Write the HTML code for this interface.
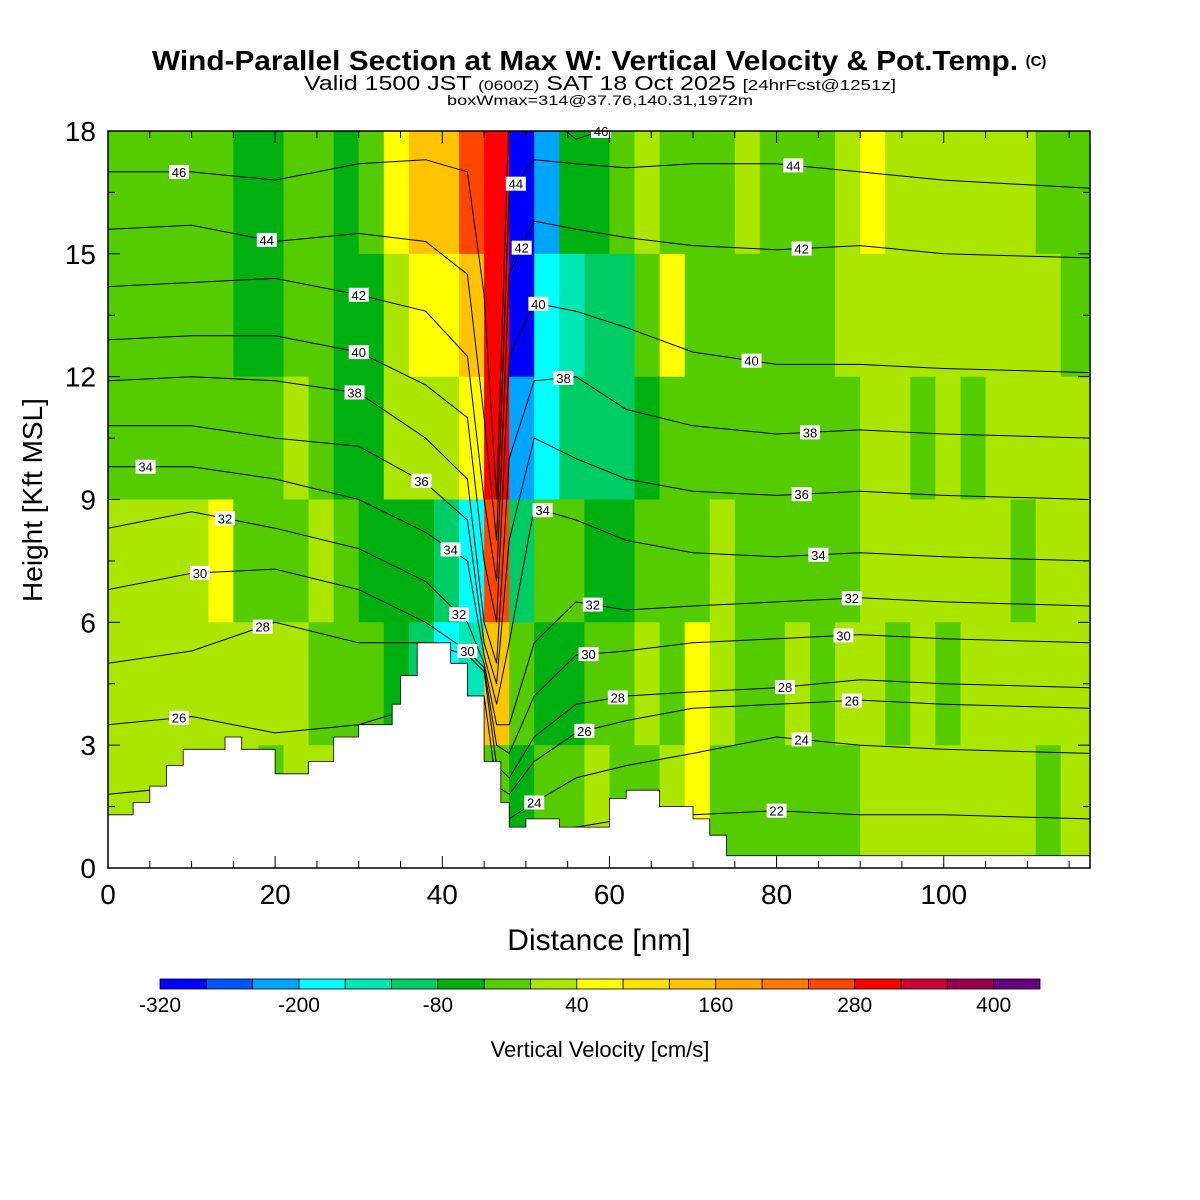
<!DOCTYPE html>
<html><head><meta charset="utf-8"><style>
html,body{margin:0;padding:0;background:#fff;}
svg{display:block;}
text{font-family:"Liberation Sans",sans-serif;}
</style></head><body>
<svg id="chart" width="1200" height="1200" viewBox="0 0 1200 1200" xmlns="http://www.w3.org/2000/svg">
<text x="585" y="70" text-anchor="middle" font-size="28" font-weight="bold" textLength="866" lengthAdjust="spacingAndGlyphs">Wind-Parallel Section at Max W: Vertical Velocity &amp; Pot.Temp.</text>
<text x="1036" y="66" text-anchor="middle" font-size="15" font-weight="bold">(C)</text>
<text x="600" y="90" text-anchor="middle" font-size="20" textLength="592" lengthAdjust="spacingAndGlyphs">Valid 1500 JST <tspan font-size="14">(0600Z)</tspan> SAT 18 Oct 2025 <tspan font-size="15">[24hrFcst@1251z]</tspan></text>
<text x="600" y="105" text-anchor="middle" font-size="14" textLength="306" lengthAdjust="spacingAndGlyphs">boxWmax=314@37.76,140.31,1972m</text>
<g id="cells"></g>
<g id="contours"></g>
<g id="terrain"></g>
<g id="labels"></g>
<rect x="108" y="131" width="982" height="737" fill="none" stroke="#000" stroke-width="1.5"/>
<g id="axes"></g>
<text x="599" y="950" text-anchor="middle" font-size="30">Distance [nm]</text>
<text transform="translate(42,500) rotate(-90)" text-anchor="middle" font-size="28">Height [Kft MSL]</text>
<g id="colorbar"></g>
<text x="600" y="1057" text-anchor="middle" font-size="22">Vertical Velocity [cm/s]</text>
</svg>
<script>
const NS="http://www.w3.org/2000/svg";
// ---- data ----
const colEdges=[0,3,6,9,12,15,18,21,24,27,30,33,36,39,42,45,48,51,54,57,60,63,66,69,72,75,78,81,84,87,90,93,96,99,102,105,108,111,114,117.5];
const rowEdges=[18,15,12,9,6,3,0];
// w values per row (top to bottom), cm/s
const wRow0=[-20,-20,-20,-20,-20,-60,-60,-20,-20,-60,-20,60,140,140,260,300,-300,-220,-60,-60,-20,20,-20,-20,-20,20,-20,-20,-20,20,60,20,20,20,20,20,20,-20,-20];
const wRow1=[-20,-20,-20,-20,-20,-60,-60,-20,-20,-60,-60,20,60,60,140,300,-300,-180,-140,-100,-100,-20,60,-20,-20,-20,-20,-20,-20,20,20,20,20,20,20,20,20,20,-20];
const wRow2=[-20,-20,-20,-20,-20,-20,-20,20,-20,-60,-60,20,20,20,60,300,-220,-180,-100,-100,-100,-60,-20,-20,-20,-20,-20,-20,-20,-20,20,20,-20,20,-20,20,20,20,20];
const wRow3=[20,20,20,20,60,-20,-20,-20,20,-20,-60,-60,-60,-100,-180,260,-100,-20,-20,-60,-60,-20,-20,-20,20,-20,-20,-20,-20,-20,20,20,20,20,20,20,-20,20,20];
const wRow4=[20,20,20,20,20,20,20,20,-20,-20,-20,-60,-100,-180,-140,140,-20,-60,-60,-20,-20,20,-20,60,20,-20,-20,20,-20,20,20,-20,20,-20,20,20,20,20,20];
const wRow5=[20,20,20,20,20,20,-20,20,20,60,20,20,20,20,-20,-20,-60,-20,-20,20,-20,-20,20,60,-20,-20,-20,-20,-20,-20,20,20,20,20,20,20,20,-20,20];
const wRows=[wRow0,wRow1,wRow2,wRow3,wRow4,wRow5];
const cbarColors=["#0000ff","#0055ff","#00a5ff","#00ffff","#00e6b4","#00cc66","#00b010","#55cc00","#aae600","#ffff00","#ffe100","#ffc300","#ffa500","#ff7800","#ff4600","#ff0000","#cc0032","#99004b","#660082"];
const cbarTicks=[-320,-200,-80,40,160,280,400];
const xTicks=[0,20,40,60,80,100];
const yTicks=[0,3,6,9,12,15,18];
// terrain: step heights (kft) starting at each x (nm)
const terrX=[0,3,5,7,9,14,16,20,24,27,30,34,35,37,41,43,45,47,48,50,54,60,62,66,70,72,74,117.5];
const terrH=[1.3,1.6,2.0,2.5,2.9,3.2,2.9,2.3,2.6,3.2,3.5,4.0,4.7,5.5,5.0,4.2,2.6,1.6,1.0,1.2,1.0,1.7,1.9,1.5,1.2,0.8,0.3,0.3];
// theta contours: heights (kft) at anchor distances
const thX=[0,10,20,30,38,43,45,46.5,48,51,56,62,70,80,90,100,117.5];
const thLevels=[22,24,26,28,30,32,34,36,38,40,42,44,46];
const th22=[0.5,0.5,0.5,0.5,0.5,0.5,0.5,0.5,0.5,0.8,1.0,1.2,1.3,1.4,1.3,1.3,1.2];
const th24=[1.8,2.0,1.5,1.5,1.5,1.5,1.5,1.2,1.2,1.6,2.2,2.5,2.8,3.2,3.0,2.9,2.8];
const th26=[3.5,3.7,3.3,3.5,4.0,4.2,4.2,2.0,1.8,2.6,3.3,3.6,3.9,4.0,4.1,4.0,3.9];
const th28=[5.0,5.3,6.0,5.5,5.5,5.2,4.8,2.5,2.2,3.2,4.0,4.2,4.3,4.4,4.6,4.5,4.4];
const th30=[6.8,7.2,7.3,6.8,6.0,5.3,4.9,3.0,2.8,4.2,5.2,5.3,5.5,5.6,5.7,5.6,5.5];
const th32=[8.3,8.7,8.3,7.8,7.0,6.0,5.0,3.5,3.5,5.5,6.5,6.3,6.4,6.5,6.6,6.5,6.4];
const th34=[9.8,9.8,9.5,9.0,8.2,7.5,5.2,4.0,5.5,8.8,8.5,8.0,7.7,7.6,7.7,7.6,7.5];
const th36=[10.8,10.8,10.5,10.3,9.4,8.5,5.5,4.5,8.0,10.5,10.0,9.5,9.2,9.1,9.2,9.1,9.0];
const th38=[11.9,12.0,11.9,11.6,10.5,9.5,6.0,5.0,10.0,11.9,12.0,11.2,10.8,10.6,10.7,10.6,10.5];
const th40=[12.9,13.0,13.0,12.6,11.8,11.0,7.5,6.0,12.5,13.8,13.6,13.2,12.6,12.3,12.3,12.2,12.1];
const th42=[14.2,14.3,14.4,14.0,13.6,12.5,9.0,7.0,14.5,15.8,15.6,15.4,15.2,15.1,15.2,15.0,14.9];
const th44=[15.6,15.7,15.3,15.5,15.3,14.5,11.0,8.0,16.5,17.3,17.2,17.1,17.2,17.2,17.0,16.8,16.6];
const th46=[17.0,17.0,16.8,17.2,17.3,17.0,14.0,9.0,18.5,18.6,17.8,18.2,18.6,18.8,18.8,18.8,18.8];
const thRows=[th22,th24,th26,th28,th30,th32,th34,th36,th38,th40,th42,th44,th46];
// contour labels: level and distance
const labLevel=[26,28,30,32,34,46,44,42,40,38,36,34,32,30,24,26,28,30,32,34,38,40,42,44,46,22,24,26,28,30,32,34,36,38,40,42,44];
const labX=[8.5,18.5,11,14,4.5,8.5,19,30,30,29.5,37.5,41,42,43,51,57,61,57.5,58,52,54.5,51.5,49.5,48.8,59,80,83,89,81,88,89,85,83,84,77,83,82];
// ---- scales ----
const X0=108,X1=1090,Y0=868,Y1=131;
const sx=v=>X0+v*(X1-X0)/117.5;
const sy=v=>Y0-v*(Y0-Y1)/18;
const colorFor=v=>cbarColors[Math.max(0,Math.min(18,Math.floor((v+320)/40)))];
function mk(tag,attrs,parent){const e=document.createElementNS(NS,tag);for(const k in attrs)e.setAttribute(k,attrs[k]);parent.appendChild(e);return e;}
function interp(xs,ys,x){for(let i=0;i<xs.length-1;i++){if(x>=xs[i]&&x<=xs[i+1]){const t=(x-xs[i])/(xs[i+1]-xs[i]);return ys[i]+t*(ys[i+1]-ys[i]);}}return ys[ys.length-1];}
// heatmap
const gC=document.getElementById('cells');
wRows.forEach((row,r)=>{row.forEach((v,c)=>{
 const x=sx(colEdges[c]),w=sx(colEdges[c+1])-x,y=sy(rowEdges[r]),h=sy(rowEdges[r+1])-y;
 const el=mk('rect',{x:x,y:y,width:w+0.5,height:h+0.5,fill:colorFor(v)},gC);
 
 
});});
// contours
const gT=document.getElementById('contours');
const defs=mk('defs',{},document.getElementById('chart'));
const cp=mk('clipPath',{id:'plotclip'},defs);
mk('rect',{x:X0,y:Y1,width:X1-X0,height:Y0-Y1},cp);
gT.setAttribute('clip-path','url(#plotclip)');
thRows.forEach((row,i)=>{
 let d='';row.forEach((h,j)=>{d+=(j?'L':'M')+sx(thX[j]).toFixed(1)+','+sy(h).toFixed(1);});
 const p=mk('path',{d:d,fill:'none',stroke:'#000','stroke-width':1},gT);
 
 
});
// terrain
const gR=document.getElementById('terrain');
let td='M'+sx(0)+','+sy(0);
for(let i=0;i<terrX.length-1;i++){td+='L'+sx(terrX[i]).toFixed(1)+','+sy(terrH[i]).toFixed(1)+'L'+sx(terrX[i+1]).toFixed(1)+','+sy(terrH[i]).toFixed(1);}
td+='L'+sx(117.5)+','+sy(0)+'Z';
const tp=mk('path',{d:td,fill:'#fff',stroke:'#000','stroke-width':0.8},gR);


// labels
const gL=document.getElementById('labels');
labLevel.forEach((lv,i)=>{
 const li=thLevels.indexOf(lv);const xv=labX[i];
 const yv=interp(thX,thRows[li],xv);
 const cx=sx(xv),cy=sy(yv);
 const g=mk('g',{},gL);
 
 
 mk('rect',{x:cx-10,y:cy-7,width:20,height:14,fill:'#fff'},g);
 const t=mk('text',{x:cx,y:cy+5,'text-anchor':'middle','font-size':13,'font-family':'Liberation Serif, serif'},g);
 t.textContent=lv;
});
// axes
const gA=document.getElementById('axes');
for(let v=0;v<=115;v+=5){const big=v%20===0;
 mk('line',{x1:sx(v),x2:sx(v),y1:Y0,y2:Y0-(big?12:7),stroke:'#000'},gA);
 mk('line',{x1:sx(v),x2:sx(v),y1:Y1,y2:Y1+(big?12:7),stroke:'#000'},gA);}
xTicks.forEach(v=>{const t=mk('text',{x:sx(v),y:904,'text-anchor':'middle','font-size':28},gA);t.textContent=v;
 
 });
for(let v=0;v<=18;v+=1.5){const big=v%3===0;
 mk('line',{x1:X0,x2:X0+(big?12:7),y1:sy(v),y2:sy(v),stroke:'#000'},gA);
 mk('line',{x1:X1,x2:X1-(big?12:7),y1:sy(v),y2:sy(v),stroke:'#000'},gA);}
yTicks.forEach(v=>{const t=mk('text',{x:96,y:sy(v)+10,'text-anchor':'end','font-size':28},gA);t.textContent=v;
 
 });
// colorbar
const gB=document.getElementById('colorbar');
const CB0=160,CB1=1040,bw=(CB1-CB0)/19;
cbarColors.forEach((c,i)=>{const r=mk('rect',{x:CB0+i*bw,y:979,width:bw,height:10,fill:c,stroke:'#000','stroke-width':0.8},gB);
 
 });
cbarTicks.forEach(v=>{const t=mk('text',{x:CB0+(v+320)/40*bw,y:1012,'text-anchor':'middle','font-size':21},gB);t.textContent=v;
 
 });
</script>
</body></html>
